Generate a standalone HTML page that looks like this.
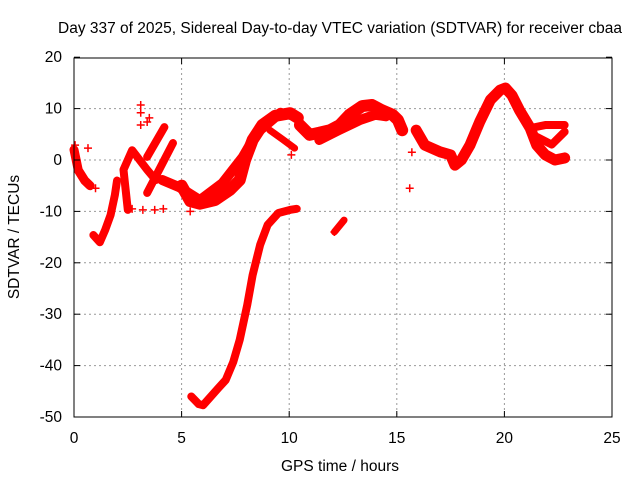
<!DOCTYPE html>
<html><head><meta charset="utf-8"><style>
body{margin:0;background:#fff}
svg{font-family:"Liberation Sans",sans-serif;font-size:15.5px}
</style></head><body>
<svg width="640" height="480">
<rect width="640" height="480" fill="#fff"/>
<g id="grid"></g>
<g id="marks"></g>
<rect x="74" y="58" width="538" height="359" fill="none" stroke="#000" stroke-width="1"/>
<g id="ticks"></g>
<text x="340" y="33" text-anchor="middle">Day 337 of 2025, Sidereal Day-to-day VTEC variation (SDTVAR) for receiver cbaa</text>
<text x="340" y="471" text-anchor="middle">GPS time / hours</text>
<text transform="translate(19,237) rotate(-90)" text-anchor="middle">SDTVAR / TECUs</text>
</svg>
<script>
const xTicks=[0,5,10,15,20,25];
const yTicks=[20,10,0,-10,-20,-30,-40,-50];
// tracks: [hour, TECU]
const trackDip=[[5.45,-46],[5.8,-47.5],[6.0,-47.7],[6.3,-46.3],[6.7,-44.4],[7.05,-42.8],[7.4,-39.3],[7.7,-35],[8.05,-28.2],[8.3,-22.4],[8.65,-16.5],[9.0,-12.6],[9.5,-10.3],[10.05,-9.7],[10.35,-9.5]];
const trackSmall=[[12.1,-14],[12.55,-11.7]];
const trackMorning=[[5.0,-5],[5.4,-8],[5.85,-8.5],[6.55,-7.8],[7.25,-5.8],[7.7,-3.9],[7.95,0],[8.3,3.9],[8.75,6.8],[9.35,8.6],[10.05,9.1],[10.4,8.2]];
const trackBranch=[[9.1,5.8],[9.7,4],[10.25,2.3]];
const trackNoon=[[10.5,6.8],[10.95,4.9],[11.4,5.3],[11.9,5.8],[12.35,6.8],[12.8,8.8],[13.4,10.5],[13.85,10.7],[14.3,9.7],[14.8,8.8],[15.05,7.8],[15.25,5.8]];
const trackNoon2=[[11.4,3.9],[12.3,5.8],[13.3,7.8],[14.0,8.8],[14.5,8.5]];
const trackEve=[[15.9,5.8],[16.3,2.9],[17.0,1.6],[17.5,1],[17.7,-1],[18.0,0],[18.4,2.9],[18.85,7.4],[19.35,11.7],[19.8,13.6],[20.05,14],[20.35,12.6],[20.7,9.7],[21.2,6.2],[21.5,2.9],[21.9,1],[22.35,0],[22.8,0.4]];
const trackEve2=[[21.2,6.2],[21.9,6.8],[22.8,6.8]];
const trackEve3=[[21.5,4.5],[22.2,3],[22.8,5.5]];
const trackEarly1=[[0.0,2],[0.2,-2],[0.5,-4],[0.75,-5]];
const trackEarly2=[[0.9,-14.6],[1.2,-16],[1.45,-13.6],[1.7,-10.7],[1.9,-6.8],[2.0,-4]];
const trackEarly3=[[2.5,-9.7],[2.3,-1.9],[2.7,1.9],[3.4,-1.9],[3.8,-3.9]];
const trackEarly4=[[3.4,-6.4],[4.6,3.3]];
const trackEarly5=[[3.4,0.6],[4.2,6.4]];
const trackMid=[[4.1,-3.9],[4.9,-5.3],[5.85,-7.8],[6.9,-4.5],[7.85,0.6],[8.5,5.3],[9.6,9.2]];
const tracks=[trackDip,trackSmall,trackMorning,trackBranch,trackNoon,trackNoon2,trackEve,trackEve2,trackEve3,trackEarly1,trackEarly2,trackEarly3,trackEarly4,trackEarly5,trackMid];
const widths=[8,7,12,7,12,10,11,8,8,9,8,8,8,8,10];
const crossH=[3.1,3.1,3.1,3.4,3.5,3.2,3.75,4.15,0.65,0.05,1.0,5.4,10.1,15.7,15.6,12.1,2.7];
const crossV=[10.7,9.2,6.8,7.4,8.2,-9.7,-9.7,-9.5,2.3,2.9,-5.5,-10,1,1.5,-5.5,-14,-9.5];
const X=h=>74+h*21.52, Y=v=>160-v*5.14;
const NS="http://www.w3.org/2000/svg";
const g=document.getElementById('grid'),m=document.getElementById('marks'),t=document.getElementById('ticks');
function el(p,n,a){const e=document.createElementNS(NS,n);for(const k in a)e.setAttribute(k,a[k]);p.appendChild(e);return e;}
xTicks.forEach(v=>{
 if(v>0&&v<25){const l=el(g,'line',{x1:X(v),x2:X(v),y1:58,y2:417,stroke:'#999','stroke-dasharray':'2,3'});
 
 }
 el(t,'line',{x1:X(v),x2:X(v),y1:417,y2:411,stroke:'#000'});
 el(t,'line',{x1:X(v),x2:X(v),y1:58,y2:64,stroke:'#000'});
 const tx=el(t,'text',{x:X(v),y:443,'text-anchor':'middle'});tx.textContent=v;
 
 
});
yTicks.forEach(v=>{
 if(v<20&&v>-50){const l=el(g,'line',{x1:74,x2:612,y1:Y(v),y2:Y(v),stroke:'#999','stroke-dasharray':'2,3'});
 
 }
 el(t,'line',{x1:74,x2:80,y1:Y(v),y2:Y(v),stroke:'#000'});
 el(t,'line',{x1:606,x2:612,y1:Y(v),y2:Y(v),stroke:'#000'});
 const tx=el(t,'text',{x:62,y:Y(v)+5,'text-anchor':'end'});tx.textContent=v;
 
 
});
tracks.forEach((tr,i)=>{
 const p=el(m,'polyline',{points:tr.map(d=>X(d[0])+','+Y(d[1])).join(' '),fill:'none',stroke:'#f00','stroke-width':widths[i],'stroke-linejoin':'round','stroke-linecap':'round'});
 
 
});
crossH.forEach((h,i)=>{
 const x=X(h),y=Y(crossV[i]);
 const p=el(m,'path',{d:`M${x-4},${y}h8M${x},${y-4}v8`,stroke:'#f00','stroke-width':1.5});
 
 
});
</script>
</body></html>
